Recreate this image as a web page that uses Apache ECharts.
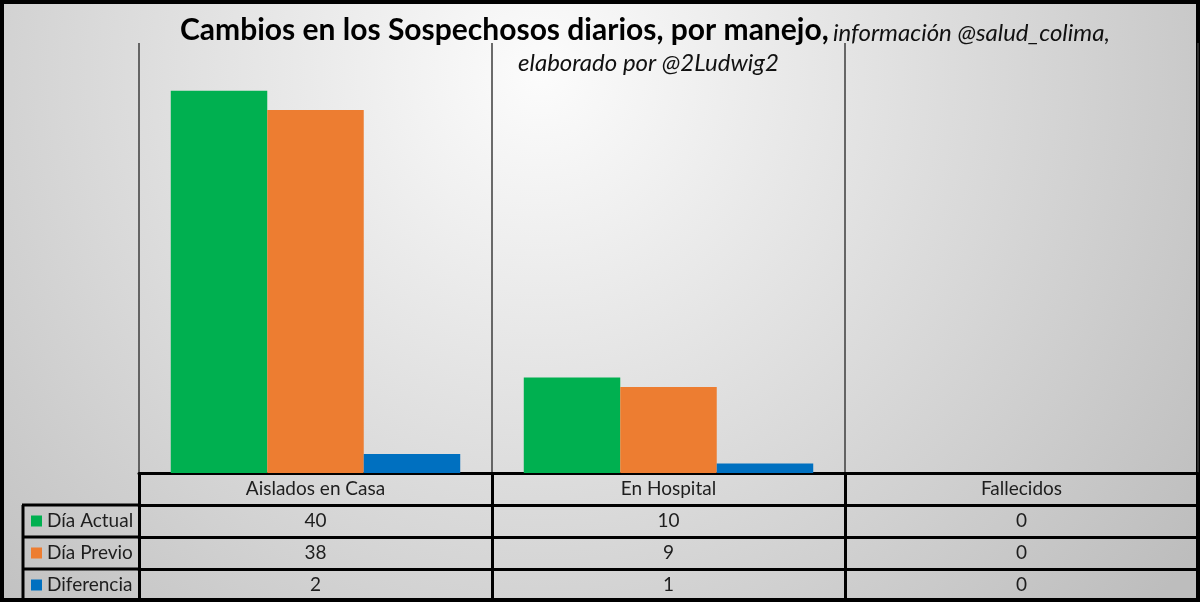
<!DOCTYPE html>
<html lang="es">
<head>
<meta charset="UTF-8">
<title>Cambios en los Sospechosos diarios</title>
<script src="https://cdn.jsdelivr.net/npm/echarts@6/dist/echarts.min.js"></script>
<style>
  html, body { margin: 0; padding: 0; }
  #chart { width: 1200px; height: 602px; }
</style>
</head>
<body>
<div id="chart"></div>
<script>
// datos
const categories = ['Aislados en Casa', 'En Hospital', 'Fallecidos'];
const seriesNames = ['Día Actual', 'Día Previo', 'Diferencia'];
const diaActual = [40, 10, 0];
const diaPrevio = [38, 9, 0];
const diferencia = [2, 1, 0];
const seriesData = [diaActual, diaPrevio, diferencia];
const colors = ['#00b050', '#ed7d31', '#0070c0'];

const FONT = 'Lato';
const chart = echarts.init(document.getElementById('chart'));

// one extra x axis per table row, pushed down with offset
const rowH = 32;
const tableAxes = seriesData.map(function (arr, r) {
  return {
    type: 'category',
    data: categories,
    position: 'bottom',
    offset: rowH * (r + 1),
    axisLine: { lineStyle: { color: '#000', width: 3 } },
    axisTick: { show: false },
    splitLine: { show: false },
    axisLabel: {
      margin: 6,
      fontSize: 19,
      lineHeight: 20,
      fontFamily: FONT,
      color: '#1e1e1e',
      formatter: function (v, i) { return String(arr[i]); }
    }
  };
});

const line = function (x1, y1, x2, y2) {
  return {
    type: 'line',
    shape: { x1: x1, y1: y1, x2: x2, y2: y2 },
    style: { stroke: '#000', lineWidth: 3 },
    silent: true
  };
};

const option = {
  animation: false,
  backgroundColor: new echarts.graphic.RadialGradient(0.45, 0.12, 1.35, [
    { offset: 0, color: '#fcfcfc' },
    { offset: 1, color: '#bdbdbd' }
  ]),
  textStyle: { fontFamily: FONT },
  title: [
    {
      text: '{b|Cambios en los Sospechosos diarios, por manejo,} {i|información @salud_colima,}',
      left: 180,
      top: 9,
      padding: 0,
      textStyle: {
        rich: {
          b: { fontFamily: FONT, fontSize: 30, fontWeight: 'bold', color: '#000', verticalAlign: 'bottom', lineHeight: 36 },
          i: { fontFamily: FONT, fontSize: 24, fontStyle: 'italic', fontWeight: 'normal', color: '#111', verticalAlign: 'bottom', lineHeight: 34 }
        }
      }
    },
    {
      text: 'elaborado por @2Ludwig2',
      left: 518,
      top: 49,
      padding: 0,
      textStyle: { fontFamily: FONT, fontSize: 24, lineHeight: 28, fontStyle: 'italic', fontWeight: 'normal', color: '#111' }
    }
  ],
  legend: {
    orient: 'vertical',
    left: 31,
    top: 511,
    padding: 0,
    itemGap: 12,
    itemWidth: 11,
    itemHeight: 11,
    icon: 'rect',
    selectedMode: false,
    data: seriesNames,
    textStyle: { fontSize: 19, lineHeight: 20, fontFamily: FONT, color: '#1e1e1e' }
  },
  grid: { left: 139, right: 2, top: 43, bottom: 129 },
  xAxis: [
    {
      type: 'category',
      data: categories,
      position: 'bottom',
      axisLine: { lineStyle: { color: '#000', width: 3 } },
      axisTick: { show: true, length: 129, lineStyle: { color: '#000', width: 3 } },
      splitLine: { show: true, lineStyle: { color: '#3c3c3c', width: 1.5 } },
      axisLabel: { margin: 6, fontSize: 19, lineHeight: 20, fontFamily: FONT, color: '#1e1e1e' }
    }
  ].concat(tableAxes),
  yAxis: {
    type: 'value',
    min: 0,
    max: 45,
    show: false
  },
  series: seriesNames.map(function (name, k) {
    return {
      name: name,
      type: 'bar',
      xAxisIndex: 0,
      barGap: '0%',
      barCategoryGap: '18%',
      itemStyle: { color: colors[k] },
      data: seriesData[k]
    };
  }),
  graphic: [
    line(23, 505, 23, 600),
    line(22, 505, 139, 505),
    line(22, 537, 139, 537),
    line(22, 569, 139, 569),
    {
      type: 'rect',
      shape: { x: 2, y: 2, width: 1196, height: 598 },
      style: { fill: 'none', stroke: '#000', lineWidth: 4 },
      silent: true
    }
  ]
};

chart.setOption(option);
window.addEventListener('resize', chart.resize);
</script>
</body>
</html>
